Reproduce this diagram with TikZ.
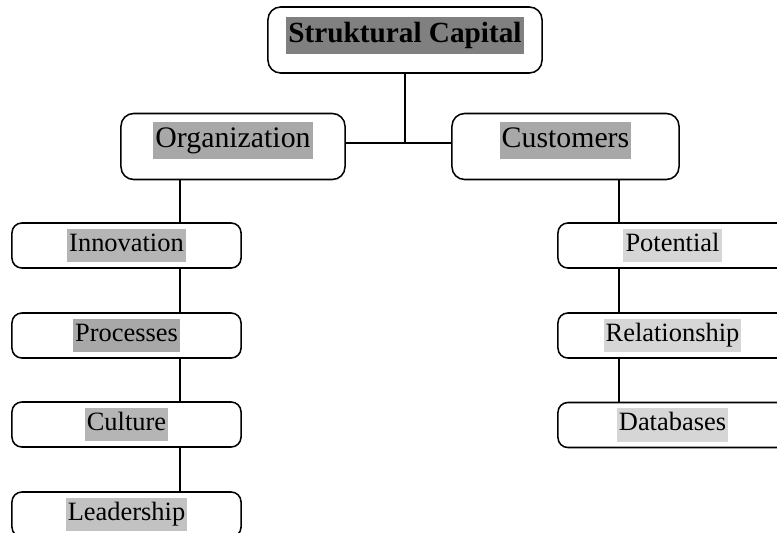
\documentclass[tikz,border=0pt]{standalone}
\usepackage{fontspec}
\setmainfont{Liberation Serif}
\usetikzlibrary{positioning}

\definecolor{markTop}{gray}{0.50}
\definecolor{markMid}{gray}{0.66}
\definecolor{markSub}{gray}{0.71}
\definecolor{markLow}{gray}{0.76}
\definecolor{markLight}{gray}{0.84}

% grey text highlight behind a label
\newcommand{\marker}[2]{{\setlength{\fboxsep}{1.5pt}\colorbox{#1}{\strut #2}}}
% move a label up inside its box, keeping the box size
\newcommand{\lift}[2]{\raisebox{0pt}[\dimexpr\height-#1\relax][\dimexpr\depth+#1\relax]{#2}}

\begin{document}
\begin{tikzpicture}[
	x=0.025cm, y=-0.025cm,
	unit/.style={rectangle, draw, line width=1.1pt, rounded corners=7pt, inner sep=0pt, minimum width=5.725cm, minimum height=1.125cm, font=\fontsize{18.8}{21}\selectfont},
	group/.style={unit, rounded corners=9pt, minimum height=1.65cm, font=\fontsize{21.2}{23.5}\selectfont},
	link/.style={line width=1.1pt},
]
	\useasboundingbox (0,0) rectangle (777,533);
	\clip (0,0) rectangle (777,533);

	% Capital (top)
	\node[group, minimum width=6.85cm, font=\fontsize{20.8}{23}\selectfont\bfseries] (cap) at (405,40) {\lift{0.11cm}{\marker{markTop}{Struktural Capital}}};

	% Organization / Customers
	\node[group, minimum width=5.6cm] (org) at (233,146.5) {\lift{0.15cm}{\marker{markMid}{Organization}}};
	\node[group, minimum width=5.675cm] (cust) at (565.5,146.5) {\lift{0.15cm}{\marker{markMid}{Customers}}};

	% left column
	\node[unit] (inno) at (126.5,245.5) {\marker{markSub}{Innovation}};
	\node[unit] (proc) at (126.5,335.5) {\marker{markMid}{Processes}};
	\node[unit] (cult) at (126.5,424.5) {\marker{markSub}{Culture}};
	\node[unit] (lead) at (126.5,514.5) {\marker{markLow}{Leadership}};

	% right column
	\node[unit] (pot) at (672.5,245.5) {\marker{markLight}{Potential}};
	\node[unit] (rel) at (672.5,335.5) {\marker{markLight}{Relationship}};
	\node[unit] (data) at (672.5,425) {\marker{markLight}{Databases}};

	% junctions
	\coordinate (hub) at (405,143);
	\coordinate (lcol) at (180,0);
	\coordinate (rcol) at (619,0);

	% capital to both groups
	\draw[link] (cap.south) -- (hub);
	\draw[link] (org.east |- hub) -- (cust.west |- hub);

	% organization chain
	\draw[link] (org.south -| lcol) -- (inno.north -| lcol);
	\draw[link] (inno.south -| lcol) -- (proc.north -| lcol);
	\draw[link] (proc.south -| lcol) -- (cult.north -| lcol);
	\draw[link] (cult.south -| lcol) -- (lead.north -| lcol);

	% customers chain
	\draw[link] (cust.south -| rcol) -- (pot.north -| rcol);
	\draw[link] (pot.south -| rcol) -- (rel.north -| rcol);
	\draw[link] (rel.south -| rcol) -- (data.north -| rcol);

\end{tikzpicture}
\end{document}
